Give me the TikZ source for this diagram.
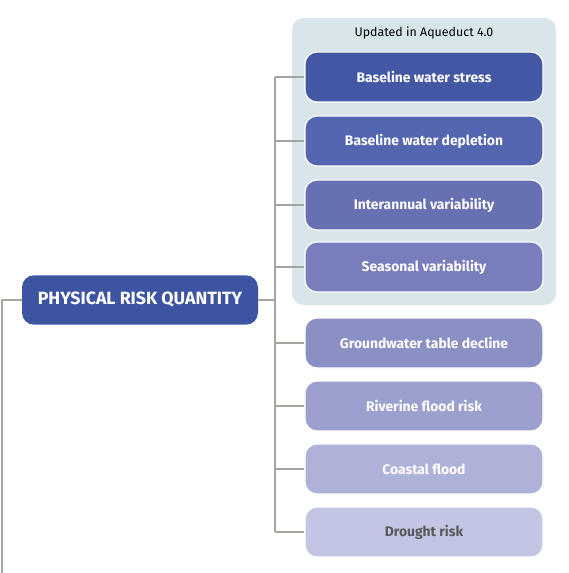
\documentclass[tikz,border=0pt]{standalone}
\usepackage{fontspec}
\setmainfont{Fira Sans}
\usetikzlibrary{positioning}
\definecolor{mainblue}{HTML}{3D54A2}
\definecolor{panel}{HTML}{D8E6E9}
\definecolor{linkgrey}{HTML}{A5A49E}
\definecolor{cA}{HTML}{4357A5}
\definecolor{cB}{HTML}{5466B0}
\definecolor{cC}{HTML}{6770B3}
\definecolor{cD}{HTML}{787EBC}
\definecolor{cE}{HTML}{8A8FC4}
\definecolor{cF}{HTML}{9BA0CE}
\definecolor{cG}{HTML}{AFB2D8}
\definecolor{cH}{HTML}{C3C5E5}
\tikzset{
  link/.style={draw=linkgrey, line width=1.1pt},
  riskbox/.style={draw=white, line width=0.9pt, rounded corners=9pt,
    minimum width=178.5pt, minimum height=37.5pt, text=white,
    font=\fontsize{10.4}{12}\selectfont\bfseries},
  mainbox/.style={fill=mainblue, rounded corners=9pt, minimum width=177pt,
    minimum height=37pt, text=white, font=\fontsize{13.3}{15}\selectfont\bfseries}
}
\begin{document}
\begin{tikzpicture}[x=0.75pt, y=-0.75pt]
\useasboundingbox (0,0) rectangle (568,573);
% group of updated indicators
\fill[panel, rounded corners=9pt] (292,18) rectangle (556,305);
\node (upd) at (424,33) {\fontsize{9.3}{11}\selectfont Updated in Aqueduct 4.0};

\node[mainbox] (main) at (140,300) {PHYSICAL RISK QUANTITY};

\foreach \i/\y/\c/\t in {1/77/cA/Baseline water stress,
                         2/141/cB/Baseline water depletion,
                         3/205/cC/Interannual variability,
                         4/267/cD/Seasonal variability,
                         5/343/cE/Groundwater table decline,
                         6/406/cF/Riverine flood risk,
                         7/469/cG/Coastal flood}
{
    \node[riskbox, fill=\c] (b\i) at (424,\y) {\t};
}
\node[riskbox, fill=cH, text=black!65] (b8) at (424,532) {Drought risk};

% connectors
\coordinate (tr) at (275,0);
\coordinate (lf) at (2,573);
\draw[link] (b1.west -| tr) -- (b8.west -| tr);
\foreach \i in {1,...,8}
{
    \draw[link] (b\i.west) -- (b\i.west -| tr);
}
\draw[link] (main.east) -- (main.east -| tr);
\draw[link] (main.west) -| (lf);
\end{tikzpicture}
\end{document}
